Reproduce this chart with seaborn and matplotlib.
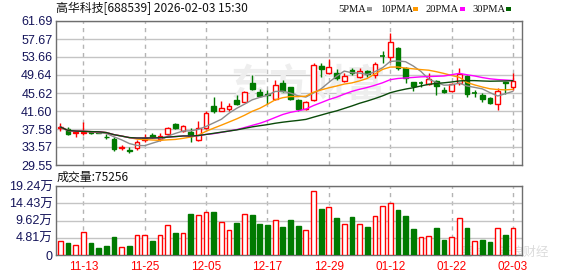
import numpy as np
import pandas as pd
import matplotlib
matplotlib.use("Agg")
import matplotlib.pyplot as plt
import seaborn as sns
from matplotlib.patches import Rectangle

# ---------------- data ----------------
dates = ["11-10", "11-11", "11-12", "11-13", "11-14", "11-17", "11-18", "11-19", "11-20", "11-21",
         "11-24", "11-25", "11-26", "11-27", "11-28", "12-01", "12-02", "12-03", "12-04", "12-05",
         "12-08", "12-09", "12-10", "12-11", "12-12", "12-15", "12-16", "12-17", "12-18", "12-19",
         "12-22", "12-23", "12-24", "12-25", "12-26", "12-29", "12-30", "12-31", "01-05", "01-06",
         "01-07", "01-08", "01-09", "01-12", "01-13", "01-14", "01-15", "01-16", "01-19", "01-20",
         "01-21", "01-22", "01-23", "01-26", "01-27", "01-28", "01-29", "01-30", "02-02", "02-03"]
opens = [37.75, 37.51, 36.60, 36.65, 36.84, 36.90, 35.87, 35.30, 33.30, 32.90,
         33.30, 35.10, 36.20, 35.30, 36.40, 38.70, 37.20, 36.95, 35.10, 37.70,
         42.72, 41.68, 42.05, 44.06, 43.54, 47.78, 45.92, 45.30, 44.28, 47.78,
         46.88, 44.06, 42.05, 44.06, 51.64, 50.01, 50.16, 48.37, 50.75, 49.20,
         50.53, 49.64, 53.88, 53.73, 55.60, 51.12, 48.00, 47.80, 47.63, 48.30,
         46.29, 46.14, 47.93, 49.41, 45.70, 45.17, 44.43, 43.16, 48.15, 47.03]
highs = [38.85, 37.96, 37.10, 39.05, 37.20, 37.10, 36.40, 35.87, 34.00, 33.50,
         35.10, 36.40, 36.60, 36.60, 38.10, 38.85, 38.50, 37.73, 39.40, 41.70,
         44.65, 43.90, 43.31, 45.17, 46.00, 49.71, 46.44, 46.20, 48.52, 48.52,
         47.03, 44.28, 43.90, 52.24, 52.24, 53.13, 50.90, 50.01, 51.12, 51.12,
         50.75, 52.61, 55.07, 58.94, 55.80, 51.50, 48.15, 48.20, 50.01, 48.52,
         47.03, 47.93, 51.12, 49.64, 46.29, 45.69, 44.80, 46.66, 48.15, 50.01]
lows = [37.07, 36.17, 35.70, 36.20, 36.40, 36.60, 35.30, 32.75, 32.90, 32.30,
        32.90, 34.60, 35.50, 34.80, 36.25, 37.50, 37.00, 34.60, 34.90, 37.50,
        41.23, 41.60, 41.68, 42.94, 43.50, 46.29, 44.80, 43.20, 44.06, 45.84,
        44.06, 41.68, 41.82, 43.90, 49.26, 49.78, 48.52, 48.15, 49.64, 48.89,
        49.26, 48.89, 52.24, 52.61, 50.75, 47.93, 46.14, 46.88, 47.40, 45.17,
        45.54, 45.92, 47.40, 44.80, 44.80, 43.69, 43.16, 41.82, 45.40, 46.29]
closes = [38.05, 36.47, 36.85, 36.90, 36.70, 36.80, 35.73, 33.05, 33.50, 32.60,
          34.70, 35.50, 35.80, 36.10, 37.88, 37.73, 38.15, 36.00, 37.70, 41.25,
          41.68, 42.20, 42.79, 43.16, 45.77, 46.51, 45.02, 45.10, 47.40, 46.14,
          44.28, 42.05, 43.68, 51.87, 50.97, 51.35, 48.89, 49.49, 50.01, 50.60,
          49.78, 52.02, 53.88, 57.08, 51.12, 48.89, 47.26, 47.80, 48.67, 47.26,
          45.84, 47.55, 49.86, 45.40, 45.70, 44.21, 43.31, 46.14, 47.93, 48.37]
volumes_wan = [3.90, 3.44, 2.79, 6.41, 3.44, 1.95, 2.51, 5.02, 2.14, 2.51,
               5.58, 5.58, 3.90, 5.58, 8.37, 6.23, 6.13, 11.43, 11.15, 11.90,
               11.90, 9.20, 6.97, 8.92, 11.43, 11.15, 8.74, 8.46, 9.76, 7.81,
               9.76, 8.18, 6.97, 17.85, 12.83, 13.38, 10.32, 8.64, 10.60, 8.64,
               7.81, 10.88, 13.66, 14.50, 12.55, 10.88, 7.25, 5.02, 5.30, 7.53,
               4.18, 5.02, 10.32, 7.53, 3.90, 4.18, 3.63, 7.53, 5.58, 7.53]

price_ticks = [29.55, 33.57, 37.58, 41.60, 45.62, 49.64, 53.66, 57.67, 61.69]
price_tick_labels = ["29.55", "33.57", "37.58", "41.60", "45.62", "49.64", "53.66", "57.67", "61.69"]
vol_ticks = [0, 4.81, 9.62, 14.43, 19.24]
vol_tick_labels = ["0", "4.81万", "9.62万", "14.43万", "19.24万"]
date_tick_labels = ["11-13", "11-25", "12-05", "12-17", "12-29", "01-12", "01-22", "02-03"]
ma_windows = [5, 10, 20, 30]
ma_labels = ["5PMA", "10PMA", "20PMA", "30PMA"]
ma_colors = ["#8c8c8c", "#ff9900", "#ff00ff", "#0a4a0a"]
legend_square_colors = ["#999999", "#ff9900", "#ff00ff", "#006400"]
title_text = "高华科技[688539] 2026-02-03 15:30"
volume_text = "成交量:75256"

# ---------------- style ----------------
sns.set_theme(style="white")
plt.rcParams['font.family'] = ['Liberation Sans', 'Noto Sans CJK SC']

RED = "#ff0000"
GREEN = "#007a00"
W, H = 578, 276

fig = plt.figure(figsize=(W / 100, H / 100), dpi=100)
fig.patch.set_facecolor("white")


def axrect(l, t, r, b):
    return [l / W, (H - b) / H, (r - l) / W, (b - t) / H]


ax = fig.add_axes(axrect(56, 21, 522, 165))
axv = fig.add_axes(axrect(56, 186, 522, 255))

df = pd.DataFrame({"date": dates, "open": opens, "high": highs, "low": lows,
                   "close": closes, "volume": volumes_wan})
df["x"] = np.arange(len(df))
df["candle_up"] = df["close"] > df["open"]
df["vol_up"] = df["close"] >= df["open"]
for w in ma_windows:
    df[f"ma{w}"] = df["close"].rolling(w, min_periods=1).mean()

body_w = 0.62

# ---------------- price panel ----------------
for _, r in df.iterrows():
    col = RED if r["candle_up"] else GREEN
    ax.vlines(r["x"], r["low"], r["high"], color=col, lw=1, zorder=3)
    lo = min(r["open"], r["close"])
    h = abs(r["close"] - r["open"])
    if h < 0.06:
        ax.hlines(r["close"], r["x"] - body_w / 2, r["x"] + body_w / 2, color=col, lw=1.2, zorder=4)
    else:
        ax.bar(r["x"], h, bottom=lo, width=body_w,
               facecolor="white" if r["candle_up"] else GREEN,
               edgecolor=col, linewidth=1, zorder=4)

for w, c in zip(ma_windows, ma_colors):
    sns.lineplot(data=df, x="x", y=f"ma{w}", ax=ax, color=c, lw=1, zorder=5, legend=False)

tick_pos = [dates.index(d) for d in date_tick_labels]
xlim = (-0.56, len(df) + 0.17)

ax.set_xlim(*xlim)
ax.set_ylim(price_ticks[0], price_ticks[-1])
ax.set_yticks(price_ticks)
ax.set_yticklabels(price_tick_labels)
ax.set_xticks(tick_pos)
ax.set_xticklabels([])
ax.set_xlabel("")
ax.set_ylabel("")
ax.grid(False)
ax.yaxis.grid(True, color="#c4c4c4", lw=1, ls="-", zorder=0)
ax.xaxis.grid(True, color="#b4b4b4", lw=1, ls=(0, (3, 3)), zorder=0)
ax.set_axisbelow(True)
ax.tick_params(axis="both", length=0, pad=2.5, labelsize=9, labelcolor="#14145a")

# watermark
ax.text(308 / W, 1 - 86 / H, "东方财富", transform=fig.transFigure, fontsize=28,
        color="#eeeeee", ha="center", va="center", fontweight="bold",
        family=["Noto Sans CJK SC"], zorder=1)

# ---------------- volume panel ----------------
for _, r in df.iterrows():
    col = RED if r["vol_up"] else GREEN
    axv.bar(r["x"], r["volume"], width=body_w,
            facecolor="white" if r["vol_up"] else GREEN,
            edgecolor=col, linewidth=1, zorder=3)

axv.set_xlim(*xlim)
axv.set_ylim(vol_ticks[0], vol_ticks[-1])
axv.set_yticks(vol_ticks)
axv.set_yticklabels(vol_tick_labels)
axv.set_xticks(tick_pos)
axv.set_xticklabels(date_tick_labels)
axv.set_xlabel("")
axv.set_ylabel("")
axv.grid(False)
axv.yaxis.grid(True, color="#c4c4c4", lw=1, ls="-", zorder=0)
axv.xaxis.grid(True, color="#b4b4b4", lw=1, ls=(0, (3, 3)), zorder=0)
axv.set_axisbelow(True)
axv.tick_params(axis="y", length=0, pad=2.5, labelsize=9, labelcolor="#14145a")
axv.tick_params(axis="x", length=0, pad=4.5, labelsize=8.5, labelcolor=RED)

for a in (ax, axv):
    for s in a.spines.values():
        s.set_color("#6e6e6e")
        s.set_linewidth(1)

# ---------------- texts ----------------
fig.text(56 / W, 1 - 8.5 / H, title_text, fontsize=8.6, color="#111111",
         ha="left", va="center", family=["Noto Sans CJK SC"])
fig.text(57 / W, 1 - 177 / H, volume_text, fontsize=8.6, color="#111111",
         ha="left", va="center", family=["Noto Sans CJK SC"])

leg_x = [338, 380, 426, 472]
sq_x = [367, 413, 460, 506]
for lbl, lx, sx, c in zip(ma_labels, leg_x, sq_x, legend_square_colors):
    fig.text(lx / W, 1 - 9 / H, lbl, fontsize=7.6, color="#111111", ha="left",
             va="center", family=["Liberation Serif"])
    fig.patches.append(Rectangle((sx / W, 1 - 11 / H), 5 / W, 4 / H,
                                 transform=fig.transFigure, facecolor=c,
                                 edgecolor="none", figure=fig))

# faint source watermark, kept inside the volume panel above the date labels
axv.text(505 / W, 1 - 252 / H, "雪球：新浪财经", transform=fig.transFigure,
         fontsize=9, color="#dcdcdc", ha="center", va="center",
         family=["Noto Sans CJK SC"], zorder=2)

fig.savefig("out.png", dpi=100)
